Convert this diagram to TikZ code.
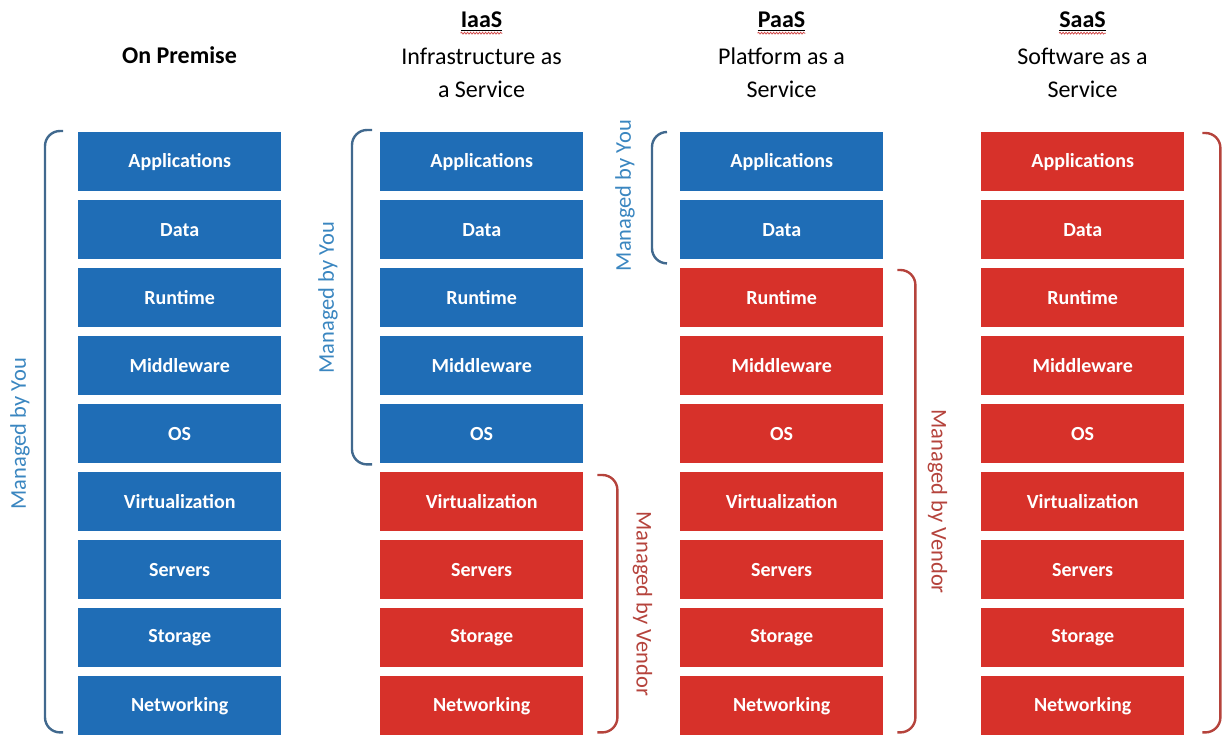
\documentclass[tikz,border=0pt]{standalone}
\usepackage{fontspec}
\setmainfont{Carlito}
\usetikzlibrary{calc,decorations.pathmorphing}
\definecolor{boxblue}{HTML}{1F6DB6}
\definecolor{boxred}{HTML}{D7312A}
\definecolor{youtxt}{HTML}{3A86C0}
\definecolor{youbr}{HTML}{41698E}
\definecolor{vendred}{HTML}{B5433C}
\definecolor{spellred}{HTML}{D04A4A}
\begin{document}
\begin{tikzpicture}[x=1pt,y=-1pt,
  layer/.style={minimum width=203pt, minimum height=59pt, inner sep=0pt, text=white,
    font=\fontsize{20}{24}\selectfont\bfseries, anchor=north west},
  head/.style={inner sep=0pt, font=\fontsize{24}{29}\selectfont},
  headbold/.style={inner sep=0pt, font=\fontsize{24}{29}\selectfont\bfseries},
  youbrace/.style={draw=youbr, line width=2.4pt, rounded corners=15pt},
  vendbrace/.style={draw=vendred, line width=2.4pt, rounded corners=15pt},
  youlabel/.style={text=youtxt, font=\fontsize{22.5}{27}\selectfont, rotate=90, inner sep=0pt},
  vendlabel/.style={text=vendred, font=\fontsize{22.5}{27}\selectfont, rotate=-90, inner sep=0pt},
  spell/.style={draw=spellred, line width=0.8pt, decorate, decoration={snake, amplitude=0.9pt, segment length=3pt}}
]
\useasboundingbox (0,0) rectangle (1223,735);

% stacks
\foreach \c/\x/\nb in {o/78/9, i/380/5, p/680/2, s/981/0} {
  \foreach \t [count=\r from 0] in {Applications,Data,Runtime,Middleware,OS,Virtualization,Servers,Storage,Networking} {
    \pgfmathsetmacro\yy{132+68*\r}
    \ifnum\r<\nb\relax \def\fc{boxblue}\else\def\fc{boxred}\fi
    \node[layer, fill=\fc] (\c\r) at (\x,\yy) {\t};
  }
}

% headers
\node[headbold] (ho) at (179.5,55) {On Premise};
\node[headbold] (hi) at (481.5,20) {IaaS};
\node[head] (hi2) at (481.5,56) {Infrastructure as};
\node[head] (hi3) at (481.5,89) {a Service};
\node[headbold] (hp) at (781.5,20) {PaaS};
\node[head] (hp2) at (781.5,56) {Platform as a};
\node[head] (hp3) at (781.5,89) {Service};
\node[headbold] (hs) at (1082.5,20) {SaaS};
\node[head] (hs2) at (1082.5,56) {Software as a};
\node[head] (hs3) at (1082.5,89) {Service};
\foreach \h in {hi,hp,hs} {
  \draw[line width=1pt] ($(\h.south west)+(0,2)$) -- ($(\h.south east)+(0,2)$);
  \draw[spell] ($(\h.south west)+(0,5)$) -- ($(\h.south east)+(0,5)$);
}

% braces
\draw[youbrace] ($(o0.north west)+(-15,-1)$) -| ($(o8.south west)+(-33,-3)$) -- ++(18,0);
\draw[youbrace] ($(i0.north west)+(-8,-2)$) -| ($(i4.south west)+(-28,1)$) -- ++(20,0);
\draw[youbrace] ($(p0.north west)+(-13,0)$) -| ($(p1.south west)+(-28,4)$) -- ++(15,0);
\draw[vendbrace] ($(i5.north east)+(14,3)$) -| ($(i8.south east)+(34,-3)$) -- ++(-20,0);
\draw[vendbrace] ($(p2.north east)+(14,2)$) -| ($(p8.south east)+(32,-3)$) -- ++(-18,0);
\draw[vendbrace] ($(s0.north east)+(18,1)$) -| ($(s8.south east)+(36,-3)$) -- ++(-18,0);

% labels
\node[youlabel] (lo) at ($(o0.north west)!0.5!(o8.south west)+(-58,0)$) {Managed by You};
\node[youlabel] (li) at ($(i0.north west)!0.5!(i4.south west)+(-52,0)$) {Managed by You};
\node[youlabel] (lp) at ($(p0.north west)!0.5!(p1.south west)+(-55,0)$) {Managed by You};
\node[vendlabel] (vi) at ($(i5.north east)!0.5!(i8.south east)+(59,0)$) {Managed by Vendor};
\node[vendlabel] (vp) at ($(p2.north east)!0.5!(p8.south east)+(54,0)$) {Managed by Vendor};
\end{tikzpicture}
\end{document}
